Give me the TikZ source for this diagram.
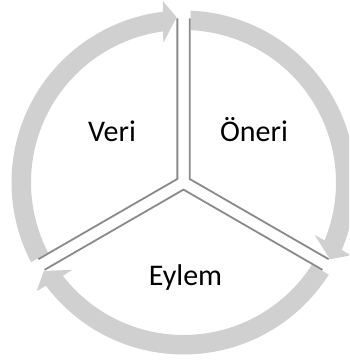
\documentclass[tikz,border=0pt]{standalone}
\usepackage{fontspec}
\setmainfont{Carlito}
\definecolor{ringgray}{RGB}{208,208,208}
\definecolor{linegray}{RGB}{138,138,138}
\begin{document}
\begin{tikzpicture}[x=1pt,y=1pt,
  cyclearrow/.style={fill=ringgray, draw=none},
  sepline/.style={draw=linegray, line width=1.8pt, line join=miter},
  segtext/.style={font=\fontsize{30}{36}\selectfont, text=black, anchor=base, inner sep=0pt}]
\useasboundingbox (-183.5,-180.5) rectangle (165.5,182.5);
\clip (-183.5,-180.5) rectangle (165.5,182.5);
\foreach \r in {0,-120,-240} {
  \begin{scope}[rotate=\r]
    \fill[cyclearrow] (207.62:172) arc[start angle=207.62, end angle=96.9, radius=172]
      -- (96.5:182.6) -- (92.36:165.4) -- (98.2:141.2) -- (97.7:152.5)
      arc[start angle=97.7, end angle=207.31, radius=152.5] -- cycle;
    \draw[sepline] (-6.15,164) -- (-6.15,3.55) -- (-145.10,-76.67);
  \end{scope}
}
\node[segtext] (veri) at (-71.5,40.8) {Veri};
\node[segtext] (oneri) at (70.5,40.8) {Öneri};
\node[segtext] (eylem) at (2,-103.2) {Eylem};
\end{tikzpicture}
\end{document}
